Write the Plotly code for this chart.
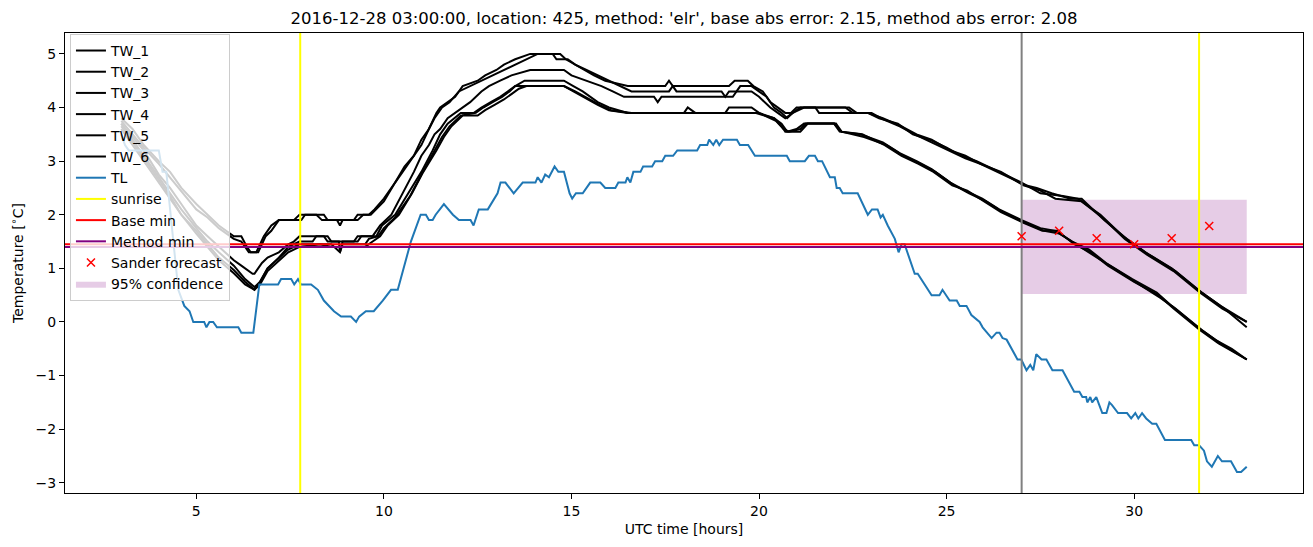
import plotly.graph_objects as go

# ---------------- data (hours since 2016-12-28 00:00 UTC, degC) ----------------
tw1 = [(3.0,3.8),(3.3,3.6),(3.6,3.3),(4.0,3.0),(4.3,2.8),(4.6,2.5),(5.0,2.2),(5.3,2.0),(5.6,1.8),(6.0,1.6),
       (6.2,1.6),(6.35,1.4),(6.45,1.3),(6.6,1.3),(6.8,1.6),(7.0,1.8),(7.2,1.9),(7.6,1.9),(7.75,2.0),(8.4,2.0),
       (8.5,1.9),(8.75,1.9),(8.83,1.8),(8.9,1.9),(9.2,1.9),(9.3,2.0),(9.6,2.0),(9.75,2.1),(10.0,2.3),(10.3,2.6),
       (10.55,2.9),(10.8,3.1),(11.0,3.4),(11.2,3.6),(11.4,3.9),(11.5,4.0),(11.7,4.1),(11.9,4.2),(12.1,4.4),
       (12.5,4.5),(12.7,4.6),(13.0,4.7),(13.2,4.8),(13.5,4.9),(13.9,5.0),(14.7,5.0),(14.85,4.9),(15.1,4.8),
       (15.35,4.7),(15.6,4.6),(15.9,4.5),(16.5,4.4),(17.5,4.4),(17.6,4.5),(17.7,4.4),(19.2,4.4),(19.35,4.5),
       (19.7,4.5),(19.85,4.4),(20.1,4.3),(20.3,4.1),(20.5,4.0),(20.7,3.9),(20.85,3.9),(21.0,4.0),(22.3,4.0),
       (22.5,3.9),(22.9,3.9),(23.2,3.8),(23.7,3.7),(24.1,3.5),(24.55,3.4),(25.0,3.25),(25.4,3.1),(25.8,3.0),
       (26.4,2.8),(27.0,2.6),(27.5,2.4),(28.1,2.35),(28.5,2.3),(29.1,2.0),(29.7,1.6),(30.3,1.3),(31.0,1.0),
       (31.7,0.6),(32.3,0.3),(33.0,0.0)]
tw2 = [(3.0,3.75),(3.3,3.5),(3.6,3.25),(4.0,2.95),(4.3,2.7),(4.6,2.45),(5.0,2.1),(5.3,1.95),(5.6,1.75),(6.0,1.55),
       (6.2,1.5),(6.4,1.3),(6.65,1.3),(6.85,1.6),(7.0,1.7),(7.2,1.9),(7.8,1.9),(7.9,2.0),(8.2,2.0),(8.35,1.9),
       (9.3,1.9),(9.45,2.0),(9.65,2.0),(10.0,2.25),(10.3,2.6),(10.5,2.8),(10.8,3.1),(11.0,3.3),(11.2,3.6),
       (11.35,3.8),(11.55,4.0),(11.75,4.1),(12.0,4.3),(12.3,4.4),(12.6,4.5),(12.9,4.6),(13.2,4.7),(13.5,4.8),
       (13.8,4.9),(14.1,5.0),(14.5,5.0),(14.6,4.9),(14.9,4.9),(15.1,4.8),(15.4,4.7),(15.7,4.6),(16.0,4.5),
       (16.3,4.4),(16.6,4.3),(17.6,4.3),(17.7,4.4),(17.8,4.3),(19.0,4.3),(19.1,4.2),(19.2,4.3),(19.4,4.3),
       (19.5,4.4),(19.8,4.4),(20.0,4.3),(20.2,4.2),(20.4,4.0),(20.6,3.9),(20.75,3.8),(20.9,3.9),(21.1,4.0),
       (21.5,4.0),(21.6,3.9),(22.9,3.9),(23.3,3.8),(23.8,3.65),(24.2,3.5),(24.6,3.4),(25.1,3.2),(25.5,3.1),
       (25.9,2.95),(26.5,2.75),(27.1,2.55),(27.4,2.5),(27.8,2.4),(28.3,2.3),(28.6,2.3),(29.2,1.9),(29.8,1.55),
       (30.4,1.25),(31.1,0.95),(31.8,0.55),(32.4,0.25),(33.0,-0.1)]
tw3 = [(3.0,3.7),(3.3,3.45),(3.6,3.2),(4.0,2.75),(4.3,2.5),(4.6,2.2),(5.0,1.8),(5.3,1.6),(5.6,1.4),(6.0,1.15),
       (6.2,1.05),(6.5,0.9),(6.55,0.9),(6.75,1.1),(6.9,1.2),(7.2,1.3),(7.45,1.45),(7.6,1.5),(7.75,1.6),(8.4,1.6),
       (8.5,1.5),(8.8,1.5),(8.83,1.3),(8.9,1.5),(9.2,1.5),(9.3,1.6),(9.7,1.6),(9.9,1.8),(10.2,2.0),(10.5,2.4),
       (10.8,2.8),(11.0,3.1),(11.2,3.3),(11.35,3.5),(11.5,3.6),(11.7,3.8),(11.9,3.9),(12.1,4.0),(12.3,4.1),
       (12.6,4.3),(12.8,4.4),(13.1,4.5),(13.4,4.6),(13.9,4.7),(14.8,4.7),(15.0,4.6),(15.4,4.5),(15.8,4.4),
       (16.1,4.3),(16.4,4.2),(17.2,4.2),(17.3,4.1),(17.4,4.2),(19.3,4.2),(19.4,4.3),(19.8,4.3),(20.0,4.2),
       (20.3,4.0),(20.5,3.9),(20.7,3.8),(20.9,3.9),(21.2,4.0),(22.4,4.0),(22.6,3.9),(23.0,3.9),(23.25,3.8),
       (23.75,3.65),(24.15,3.5),(24.6,3.35),(25.05,3.2),(25.5,3.05),(25.9,2.95),(26.45,2.8),(27.05,2.55),
       (27.5,2.45),(27.9,2.3),(28.6,2.25),(29.15,1.95),(29.75,1.55),(30.35,1.25),(31.05,0.95),(31.75,0.55),
       (32.35,0.25),(33.0,0.0)]
tw4 = [(3.0,3.7),(3.3,3.4),(3.6,3.1),(4.0,2.7),(4.3,2.4),(4.6,2.1),(5.0,1.75),(5.3,1.5),(5.6,1.3),(6.0,1.05),
       (6.3,0.8),(6.55,0.65),(6.7,0.75),(6.9,1.0),(7.2,1.2),(7.45,1.4),(7.75,1.5),(8.1,1.5),(8.2,1.6),(8.5,1.6),
       (8.6,1.5),(9.3,1.5),(9.4,1.6),(9.8,1.6),(9.95,1.8),(10.3,2.0),(10.65,2.4),(11.0,2.8),(11.3,3.2),
       (11.5,3.5),(11.7,3.7),(12.05,3.9),(12.4,3.9),(12.6,4.0),(12.85,4.1),(13.1,4.2),(13.3,4.3),(13.5,4.4),
       (13.75,4.5),(14.8,4.5),(15.05,4.4),(15.3,4.3),(15.7,4.1),(16.0,4.0),(16.5,3.9),(18.0,3.9),(18.1,4.0),
       (18.3,3.9),(19.1,3.9),(19.2,4.0),(19.8,4.0),(20.0,3.9),(20.4,3.8),(20.6,3.7),(20.75,3.55),(21.0,3.6),
       (21.2,3.7),(22.0,3.7),(22.15,3.55),(22.7,3.5),(23.3,3.35),(23.75,3.15),(24.2,3.0),(24.6,2.85),
       (25.1,2.6),(25.5,2.45),(25.95,2.3),(26.4,2.1),(27.0,1.9),(27.5,1.75),(27.9,1.7),(28.35,1.5),
       (28.8,1.35),(29.25,1.1),(29.95,0.8),(30.6,0.55),(31.0,0.3),(31.7,-0.1),(32.2,-0.35),(32.6,-0.5),
       (33.0,-0.7)]
tw5 = [(3.0,3.65),(3.3,3.35),(3.6,3.05),(4.0,2.65),(4.3,2.35),(4.6,2.0),(5.0,1.7),(5.3,1.45),(5.6,1.2),
       (6.0,0.97),(6.3,0.75),(6.55,0.6),(6.7,0.75),(6.9,1.0),(7.2,1.2),(7.45,1.35),(7.75,1.45),(8.6,1.45),
       (8.83,1.3),(8.9,1.45),(9.5,1.45),(9.6,1.55),(9.85,1.6),(10.0,1.75),(10.3,1.95),(10.7,2.35),(11.0,2.75),
       (11.35,3.2),(11.55,3.45),(11.75,3.65),(12.05,3.85),(12.45,3.9),(12.65,4.0),(12.9,4.1),(13.15,4.2),
       (13.35,4.3),(13.5,4.4),(14.8,4.4),(15.05,4.3),(15.3,4.2),(15.7,4.05),(16.0,3.95),(16.5,3.9),(19.9,3.9),
       (20.4,3.8),(20.6,3.65),(20.7,3.55),(21.1,3.55),(21.3,3.7),(22.0,3.7),(22.2,3.55),(22.75,3.5),
       (23.35,3.3),(23.8,3.1),(24.25,2.95),(24.65,2.8),(25.15,2.55),(25.55,2.45),(26.0,2.25),(26.45,2.05),
       (27.05,1.85),(27.55,1.7),(27.95,1.7),(28.4,1.45),(28.85,1.3),(29.3,1.05),(30.0,0.75),(30.65,0.5),
       (31.05,0.25),(31.75,-0.15),(32.25,-0.4),(33.0,-0.7)]
tw6 = [(3.0,3.6),(3.3,3.3),(3.6,3.0),(4.0,2.6),(4.3,2.3),(4.6,2.0),(5.0,1.65),(5.3,1.4),(5.6,1.15),(6.0,0.91),
       (6.3,0.7),(6.55,0.6),(6.7,0.7),(6.9,0.95),(7.2,1.15),(7.45,1.3),(7.75,1.4),(8.3,1.45),(8.6,1.4),
       (9.5,1.4),(9.7,1.5),(9.9,1.6),(10.1,1.8),(10.4,2.0),(10.75,2.4),(11.05,2.8),(11.4,3.2),(11.6,3.45),
       (11.8,3.65),(12.1,3.85),(12.5,3.85),(12.7,3.95),(12.95,4.05),(13.2,4.15),(13.4,4.25),(13.6,4.35),
       (13.8,4.4),(14.8,4.4),(15.1,4.3),(15.35,4.2),(15.75,4.05),(16.05,3.95),(16.6,3.9),(20.0,3.9),
       (20.45,3.75),(20.65,3.6),(20.8,3.55),(21.1,3.6),(21.25,3.7),(22.05,3.7),(22.2,3.55),(22.8,3.45),
       (23.4,3.3),(23.85,3.1),(24.3,2.95),(24.7,2.8),(25.2,2.55),(25.6,2.4),(26.05,2.25),(26.5,2.05),
       (27.1,1.85),(27.6,1.7),(28.0,1.65),(28.45,1.45),(28.9,1.25),(29.35,1.05),(30.05,0.75),(30.7,0.45),
       (31.1,0.25),(31.8,-0.15),(32.3,-0.4),(33.0,-0.7)]

tl = [(3.0,3.5),(3.1,3.3),(3.2,3.2),(4.0,3.2),(4.05,3.0),(4.1,2.8),(4.2,2.8),(4.34,1.8),(4.45,1.0),(4.52,0.6),
      (4.68,0.3),(4.82,0.2),(4.92,0.0),(5.21,0.0),(5.27,-0.1),(5.35,0.0),(5.45,0.0),(5.55,-0.1),(6.12,-0.1),
      (6.2,-0.2),(6.52,-0.2),(6.68,0.7),(7.18,0.7),(7.26,0.8),(7.53,0.8),(7.61,0.7),(7.71,0.8),(7.79,0.7),
      (8.06,0.7),(8.24,0.6),(8.4,0.4),(8.67,0.2),(8.86,0.1),(9.12,0.1),(9.26,0.0),(9.34,0.1),(9.52,0.2),
      (9.73,0.2),(9.97,0.4),(10.19,0.6),(10.37,0.6),(10.53,1.0),(10.72,1.5),(10.98,2.0),(11.12,2.0),
      (11.2,1.9),(11.3,1.9),(11.38,2.0),(11.6,2.2),(11.84,2.0),(12.0,1.9),(12.31,1.9),(12.39,1.8),
      (12.53,2.1),(12.77,2.1),(13.03,2.4),(13.11,2.6),(13.24,2.6),(13.46,2.4),(13.7,2.6),(14.04,2.6),
      (14.1,2.7),(14.2,2.6),(14.3,2.75),(14.4,2.7),(14.55,2.9),(14.65,2.8),(14.8,2.8),(14.88,2.6),
      (14.95,2.4),(15.02,2.3),(15.12,2.4),(15.3,2.4),(15.4,2.5),(15.5,2.6),(15.77,2.6),(15.9,2.5),
      (16.17,2.5),(16.25,2.6),(16.44,2.6),(16.49,2.7),(16.57,2.6),(16.65,2.8),(16.84,2.8),(16.91,2.9),
      (17.15,2.9),(17.23,3.0),(17.42,3.0),(17.5,3.1),(17.71,3.1),(17.82,3.2),(18.35,3.2),(18.43,3.3),
      (18.62,3.3),(18.67,3.4),(18.78,3.3),(18.86,3.4),(18.94,3.3),(19.04,3.4),(19.41,3.4),(19.49,3.3),
      (19.71,3.3),(19.89,3.1),(20.74,3.1),(20.82,3.0),(21.22,3.0),(21.33,3.1),(21.49,3.1),(21.57,3.0),
      (21.68,3.0),(21.89,2.7),(22.02,2.7),(22.07,2.5),(22.15,2.5),(22.23,2.4),(22.63,2.4),(22.77,2.2),
      (22.9,2.0),(23.01,2.1),(23.16,2.1),(23.24,1.95),(23.3,2.0),(23.43,1.8),(23.62,1.55),(23.72,1.3),
      (23.8,1.45),(23.88,1.45),(24.02,1.15),(24.15,0.9),(24.23,0.9),(24.6,0.5),(24.81,0.5),(24.89,0.6),
      (25.08,0.4),(25.27,0.4),(25.35,0.3),(25.53,0.3),(25.66,0.13),(25.8,0.04),(25.88,0.0),(25.96,-0.1),
      (26.2,-0.3),(26.33,-0.2),(26.41,-0.2),(26.49,-0.3),(26.6,-0.33),(26.89,-0.7),(26.99,-0.7),
      (27.13,-0.9),(27.23,-0.8),(27.31,-0.9),(27.39,-0.6),(27.53,-0.7),(27.66,-0.7),(27.82,-0.9),
      (28.09,-0.9),(28.4,-1.3),(28.54,-1.3),(28.62,-1.4),(28.72,-1.4),(28.75,-1.5),(28.83,-1.4),
      (28.88,-1.5),(28.99,-1.4),(29.15,-1.7),(29.26,-1.7),(29.34,-1.5),(29.41,-1.55),(29.57,-1.7),
      (29.81,-1.7),(29.92,-1.8),(30.03,-1.7),(30.11,-1.8),(30.21,-1.7),(30.32,-1.8),(30.48,-1.9),
      (30.59,-1.9),(30.82,-2.2),(31.52,-2.2),(31.6,-2.3),(31.73,-2.3),(31.86,-2.4),(31.94,-2.6),
      (32.07,-2.7),(32.23,-2.5),(32.34,-2.6),(32.58,-2.6),(32.74,-2.8),(32.85,-2.8),(33.0,-2.7)]

sunrise_hours = [7.77, 31.73]
forecast_hour = 27.0
base_min = 1.45
method_min = 1.40
sander_hours = [27, 28, 29, 30, 31, 32]
sander_values = [1.60, 1.70, 1.56, 1.45, 1.56, 1.79]
conf_hours = [27.0, 33.0]
conf_low = 0.52
conf_high = 2.28

title_text = "2016-12-28 03:00:00, location: 425, method: 'elr', base abs error: 2.15, method abs error: 2.08"

# ---------------- axis ranges (matplotlib-style 5% margins) ----------------
all_series = [tw1, tw2, tw3, tw4, tw5, tw6, tl]
xs_all = [p[0] for s in all_series for p in s]
ys_all = [p[1] for s in all_series for p in s]
x0, x1 = min(xs_all), max(xs_all)
y0, y1 = min(ys_all), max(ys_all)
xr = [x0 - 0.05 * (x1 - x0), x1 + 0.05 * (x1 - x0)]
yr = [y0 - 0.05 * (y1 - y0), y1 + 0.05 * (y1 - y0)]

fig = go.Figure()

# 95% confidence band
fig.add_trace(go.Scatter(
    x=[conf_hours[0], conf_hours[1], conf_hours[1], conf_hours[0], conf_hours[0]],
    y=[conf_low, conf_low, conf_high, conf_high, conf_low],
    fill="toself", fillcolor="rgba(128,0,128,0.2)", mode="lines",
    line=dict(width=0, color="rgba(128,0,128,0.2)"),
    name="95% confidence", legendrank=12, hoverinfo="skip"))

for i, s in enumerate([tw1, tw2, tw3, tw4, tw5, tw6]):
    fig.add_trace(go.Scatter(x=[p[0] for p in s], y=[p[1] for p in s], mode="lines",
                             line=dict(color="black", width=2), name=f"TW_{i+1}", legendrank=i + 1))

fig.add_trace(go.Scatter(x=[p[0] for p in tl], y=[p[1] for p in tl], mode="lines",
                         line=dict(color="#1f77b4", width=2), name="TL", legendrank=7))

# forecast time marker
fig.add_trace(go.Scatter(x=[forecast_hour, forecast_hour], y=yr, mode="lines",
                         line=dict(color="#808080", width=2), showlegend=False, hoverinfo="skip"))

sx, sy = [], []
for h in sunrise_hours:
    sx += [h, h, None]
    sy += [yr[0], yr[1], None]
fig.add_trace(go.Scatter(x=sx, y=sy, mode="lines", line=dict(color="#ffff00", width=2),
                         name="sunrise", legendrank=8))

fig.add_trace(go.Scatter(x=xr, y=[base_min, base_min], mode="lines",
                         line=dict(color="#ff0000", width=2), name="Base min", legendrank=9))
fig.add_trace(go.Scatter(x=xr, y=[method_min, method_min], mode="lines",
                         line=dict(color="#800080", width=2), name="Method min", legendrank=10))

fig.add_trace(go.Scatter(x=sander_hours, y=sander_values, mode="markers",
                         marker=dict(symbol="x-thin", size=8, line=dict(color="#ff0000", width=1.5),
                                     color="#ff0000"),
                         name="Sander forecast", legendrank=11))

font_family = "DejaVu Sans"
axis_common = dict(showline=True, linecolor="black", linewidth=1, mirror=True,
                   ticks="outside", ticklen=5, tickwidth=1, tickcolor="black",
                   showgrid=False, zeroline=False,
                   tickfont=dict(size=14, color="black", family=font_family))

fig.update_layout(
    width=1313, height=547,
    margin=dict(l=65, r=10, t=33, b=54),
    plot_bgcolor="white", paper_bgcolor="white",
    font=dict(family=font_family, color="black", size=14),
    title=dict(text=title_text, x=0.5, xref="paper", xanchor="center",
               y=1 - 18 / 547, yref="container", yanchor="middle",
               font=dict(size=16.5, family=font_family, color="black")),
    xaxis=dict(range=xr, tickvals=[5, 10, 15, 20, 25, 30],
               title=dict(text="UTC time [hours]", standoff=6, font=dict(size=14)), **axis_common),
    yaxis=dict(range=yr, tickvals=[-3, -2, -1, 0, 1, 2, 3, 4, 5],
               title=dict(text="Temperature [<sup>∘</sup>C]", standoff=8, font=dict(size=14)), **axis_common),
    legend=dict(x=0.004, y=0.998, xanchor="left", yanchor="top",
                bgcolor="rgba(255,255,255,0.8)", bordercolor="#cccccc", borderwidth=1,
                font=dict(size=14, family=font_family, color="black"),
                tracegroupgap=0, itemwidth=30),
    showlegend=True,
)

fig.write_html("out.html")
